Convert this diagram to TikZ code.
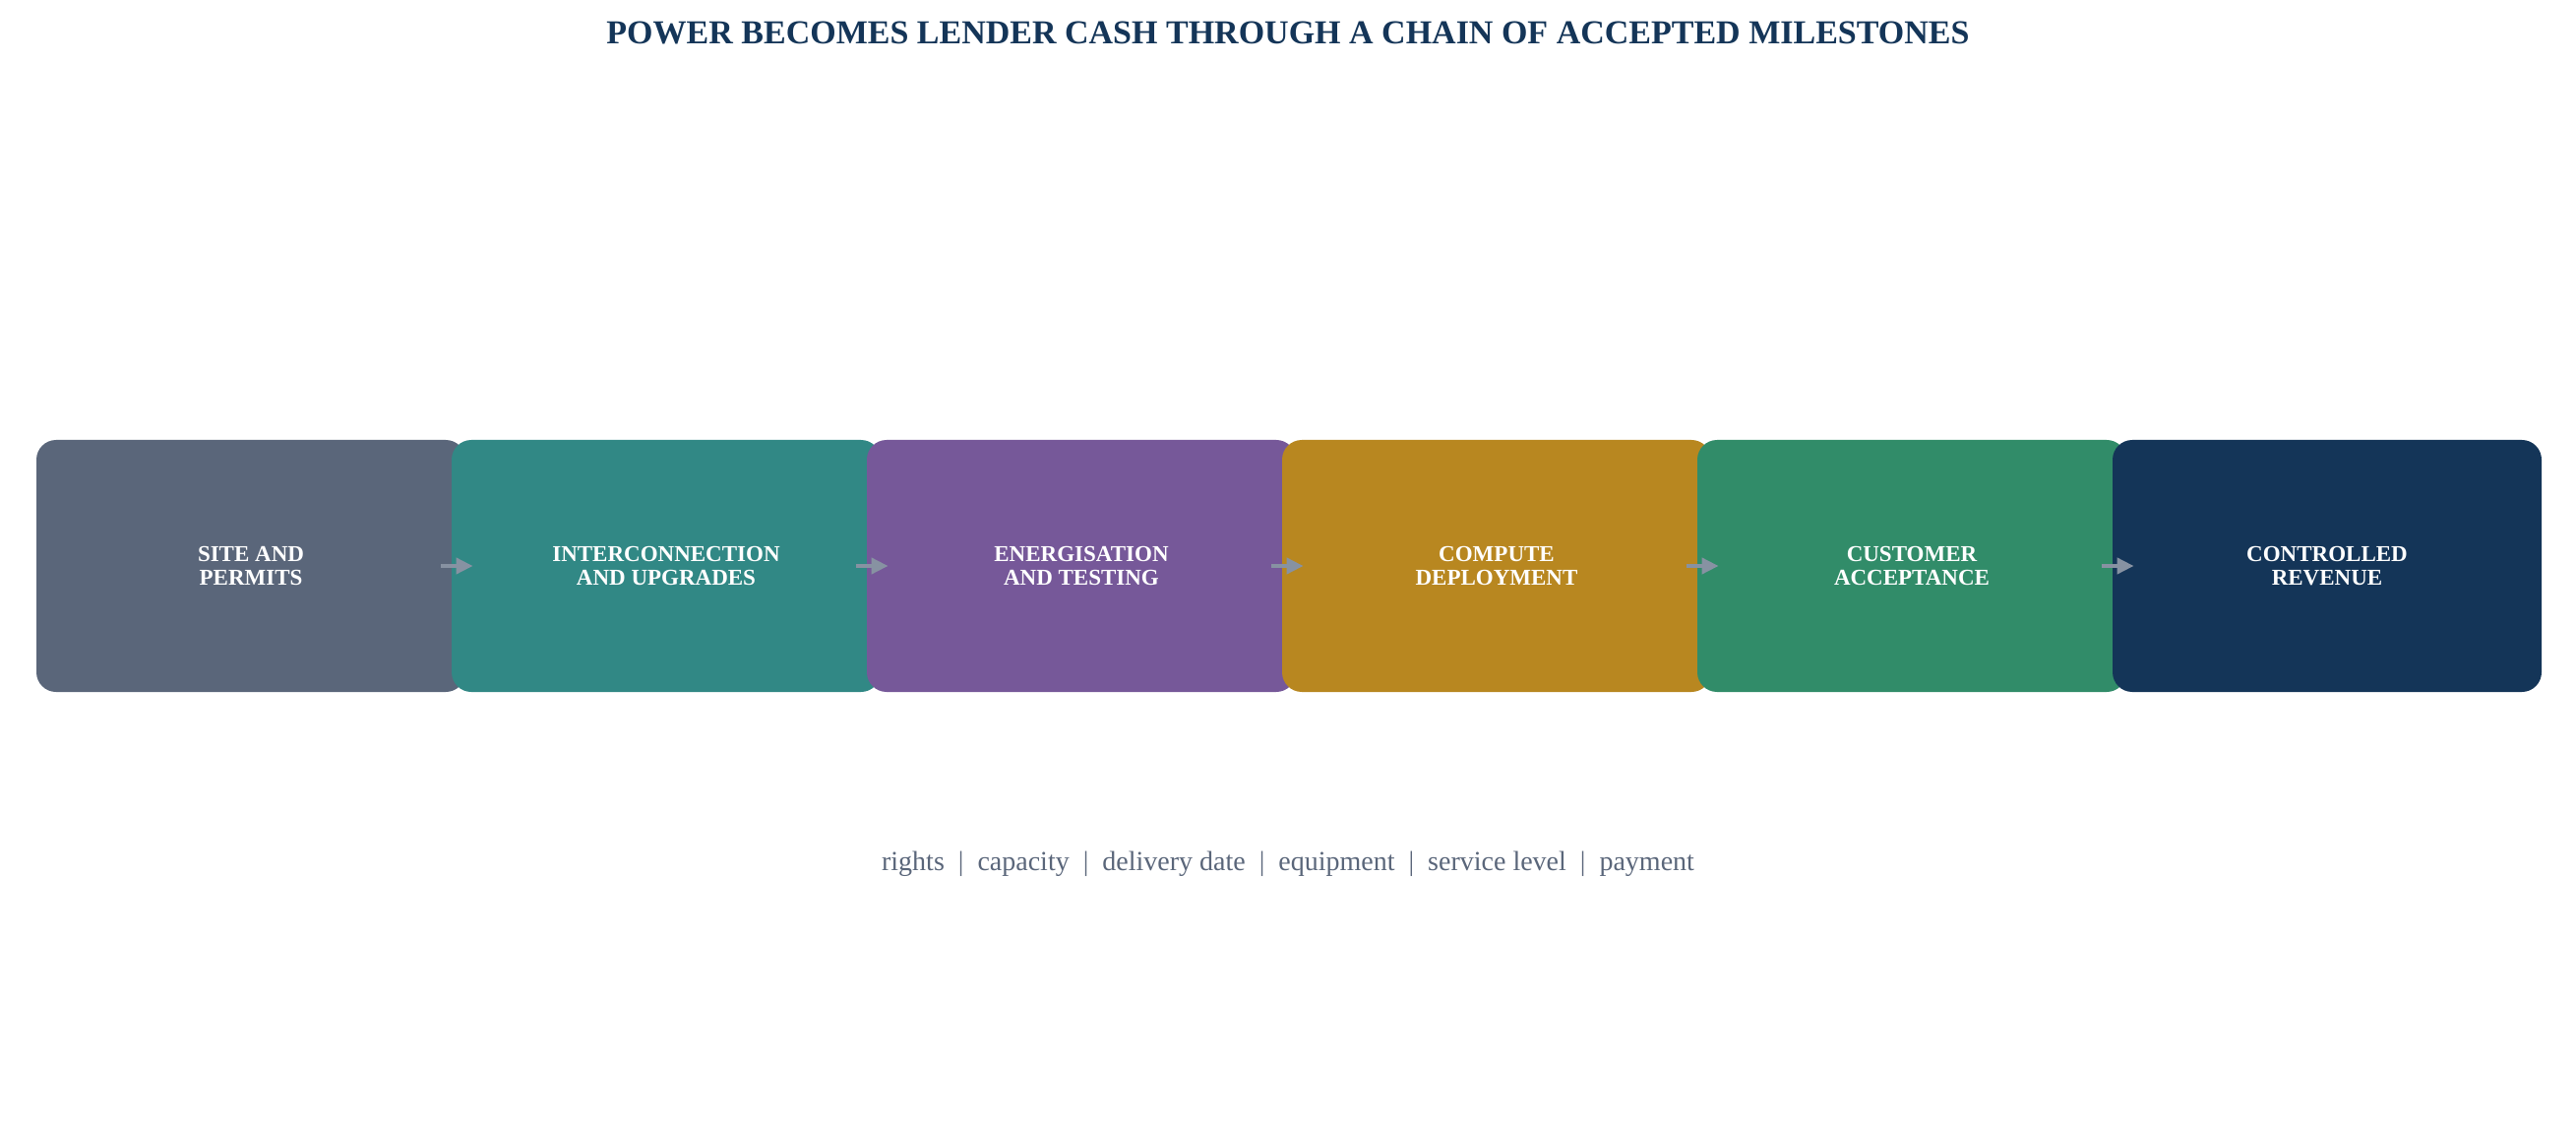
\documentclass[tikz,border=0pt]{standalone}
\usepackage{fontspec}
\setmainfont{Liberation Serif}
\usetikzlibrary{arrows.meta,calc}
\definecolor{cslate}{HTML}{5A667A}
\definecolor{cteal}{HTML}{318885}
\definecolor{cpurple}{HTML}{765899}
\definecolor{cgold}{HTML}{B88720}
\definecolor{cgreen}{HTML}{318C69}
\definecolor{cnavy}{HTML}{143558}
\definecolor{carrow}{HTML}{8792A2}
\tikzset{
  stagebox/.style={rectangle, rounded corners=10pt, minimum width=218pt, minimum height=128pt,
    inner sep=0pt, text=white, align=center, font=\fontsize{11.5pt}{12pt}\selectfont\bfseries},
  flowarrow/.style={draw=carrow, line width=2pt, -{Triangle[length=8.5pt,width=8pt]}},
}
\begin{document}
\begin{tikzpicture}[x=0.5pt,y=-0.5pt]
\useasboundingbox (0,0) rectangle (2618,1144);
\node[font=\fontsize{17pt}{20pt}\selectfont\bfseries, text=cnavy] (title) at (1309,34) {POWER BECOMES LENDER CASH THROUGH A CHAIN OF ACCEPTED MILESTONES};
\node[stagebox, fill=cslate]  (s1) at (255,575)  {SITE AND\\PERMITS};
\node[stagebox, fill=cteal]   (s2) at (677,575)  {INTERCONNECTION\\AND UPGRADES};
\node[stagebox, fill=cpurple] (s3) at (1099,575) {ENERGISATION\\AND TESTING};
\node[stagebox, fill=cgold]   (s4) at (1521,575) {COMPUTE\\DEPLOYMENT};
\node[stagebox, fill=cgreen]  (s5) at (1943,575) {CUSTOMER\\ACCEPTANCE};
\node[stagebox, fill=cnavy]   (s6) at (2365,575) {CONTROLLED\\REVENUE};
\foreach \a/\b in {s1/s2,s2/s3,s3/s4,s4/s5,s5/s6}{
  \draw[flowarrow] ($(\a.east)+(-25,0)$) -- ($(\b.west)+(22,0)$);
}
\node[font=\fontsize{14pt}{16pt}\selectfont, text=cslate] (keys) at (1309,878)
  {rights\enspace|\enspace capacity\enspace|\enspace delivery date\enspace|\enspace equipment\enspace|\enspace service level\enspace|\enspace payment};
\end{tikzpicture}
\end{document}
